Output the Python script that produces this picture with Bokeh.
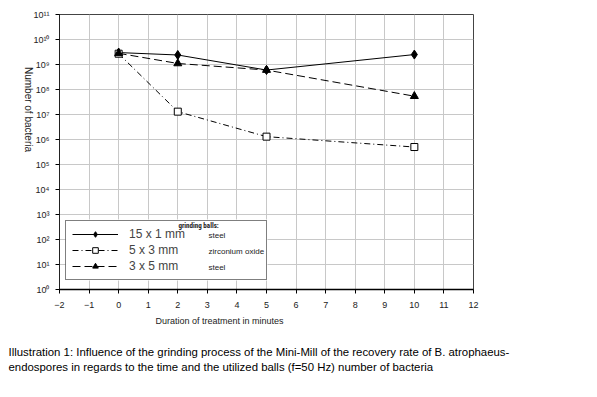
from bokeh.plotting import figure
from bokeh.models import (FixedTicker, CustomJSTickFormatter, Label, Legend, LegendItem, Title,
                          BoxAnnotation)
from bokeh.embed import file_html
from bokeh.resources import INLINE
import math

# ---- data ----
minutes = [0, 2, 5, 10]
steel_15x1 = [3.0e9, 2.4e9, 6.0e8, 2.5e9]
zirc_5x3 = [2.7e9, 1.3e7, 1.3e6, 5.0e5]
steel_3x5 = [2.8e9, 1.1e9, 6.0e8, 5.4e7]
series_labels = ["15 x 1 mm", "5 x 3 mm", "3 x 5 mm"]
ball_materials = ["steel", "zirconium oxide", "steel"]
x_ticks = list(range(-2, 13))
y_ticks = [10.0 ** k for k in range(0, 12)]

FONT = "Liberation Sans"
NARROW = "'Liberation Sans Narrow', 'Roboto Condensed', 'Liberation Sans'"

p = figure(width=589, height=389, x_range=(-2, 12), y_range=(1, 1e11),
           y_axis_type="log", output_backend="svg", toolbar_location=None,
           min_border_left=59, min_border_right=116, min_border_top=14,
           min_border_bottom=100)
p.background_fill_color = "white"
p.border_fill_color = "white"
p.outline_line_color = "#444444"
p.outline_line_width = 1

p.xaxis.ticker = FixedTicker(ticks=x_ticks)
p.yaxis.ticker = FixedTicker(ticks=y_ticks)
p.yaxis.formatter = CustomJSTickFormatter(code="""
const sup = {'0':'\u2070','1':'\u00b9','2':'\u00b2','3':'\u00b3','4':'\u2074','5':'\u2075','6':'\u2076','7':'\u2077','8':'\u2078','9':'\u2079'};
const e = Math.round(Math.log10(tick));
return '10' + String(e).split('').map(c => sup[c]).join('');
""")
for ax in (p.xaxis, p.yaxis):
    ax.major_label_text_font = FONT
    ax.major_label_text_font_size = "9px"
    ax.major_label_text_color = "#222222"
    ax.major_tick_in = 0
    ax.major_tick_out = 4
    ax.minor_tick_in = 0
    ax.minor_tick_out = 0
    ax.axis_line_color = "black"
    ax.major_tick_line_color = "black"
p.yaxis.axis_line_dash = "1 1"
p.xaxis.axis_line_width = 1.5
p.xaxis.major_label_standoff = 8
p.yaxis.major_label_standoff = 6

# y axis title, reading top to bottom
yax = p.yaxis[0]
yax.axis_label = "Number of bacteria"
yax.axis_label_text_font = FONT
yax.axis_label_text_font_size = "10px"
yax.axis_label_text_font_style = "normal"
yax.axis_label_text_color = "#222222"
yax.axis_label_standoff = 2
if "axis_label_orientation" in yax.properties():
    yax.axis_label_orientation = -math.pi / 2

p.xgrid.ticker = FixedTicker(ticks=x_ticks)
p.ygrid.ticker = FixedTicker(ticks=y_ticks)
p.grid.grid_line_color = "#c8c8c8"
p.grid.grid_line_width = 1

r1 = p.line(minutes, steel_15x1, line_color="black", line_width=1)
m1 = p.scatter(minutes, steel_15x1, marker="diamond", size=9, fill_color="black", line_color="black")
r2 = p.line(minutes, zirc_5x3, line_color="black", line_width=1, line_dash="6 3 1 3")
m2 = p.scatter(minutes, zirc_5x3, marker="square", size=7, fill_color="white", line_color="black")
r3 = p.line(minutes, steel_3x5, line_color="black", line_width=1, line_dash="8 4")
m3 = p.scatter(minutes, steel_3x5, marker="triangle", size=8, fill_color="black", line_color="black")

# white box behind the legend (legend itself is transparent so the extra texts show)
p.add_layout(BoxAnnotation(left=65, right=267, top=219, bottom=280,
                           left_units="canvas", right_units="canvas",
                           top_units="canvas", bottom_units="canvas",
                           fill_color="white", fill_alpha=1, line_alpha=0, level="glyph"))

legend = Legend(items=[
    LegendItem(label=series_labels[0], renderers=[r1, m1]),
    LegendItem(label=series_labels[1], renderers=[r2, m2]),
    LegendItem(label=series_labels[2], renderers=[r3, m3]),
], location=(6, 9))
legend.border_line_color = "black"
legend.border_line_width = 1
legend.background_fill_alpha = 0
legend.glyph_width = 46
legend.glyph_height = 14
legend.label_standoff = 11
legend.label_width = 131
legend.label_text_font = FONT
legend.label_text_font_size = "12px"
legend.spacing = 2
legend.padding = 6
legend.margin = 0
p.add_layout(legend, "center")

# legend right column (canvas units)
p.add_layout(Label(x=178, y=225, x_units="canvas", y_units="canvas", text="grinding balls:",
                   text_font=NARROW, text_font_size="7px", text_font_style="bold",
                   text_baseline="middle", text_color="#222222"))
for i, mat in enumerate(ball_materials):
    p.add_layout(Label(x=208, y=235 + 16 * i, x_units="canvas", y_units="canvas", text=mat,
                       text_font=FONT, text_font_size="8px", text_baseline="middle",
                       text_color="#222222"))

# x axis title
p.add_layout(Title(text="Duration of treatment in minutes", align="left", offset=96,
                   text_font=FONT, text_font_size="9px", text_font_style="normal",
                   text_color="#222222", standoff=7), "below")
# caption
p.add_layout(Title(text="Illustration 1: Influence of the grinding process of the Mini-Mill of the recovery rate of B. atrophaeus-\nendospores in regards to the time and the utilized balls (f=50 Hz) number of bacteria",
                   align="left", offset=-51, text_font=FONT, text_font_size="11.4px",
                   text_font_style="normal", text_color="black", standoff=28,
                   text_line_height=1.32), "below")

open("out.html", "w").write(file_html(p, INLINE))
